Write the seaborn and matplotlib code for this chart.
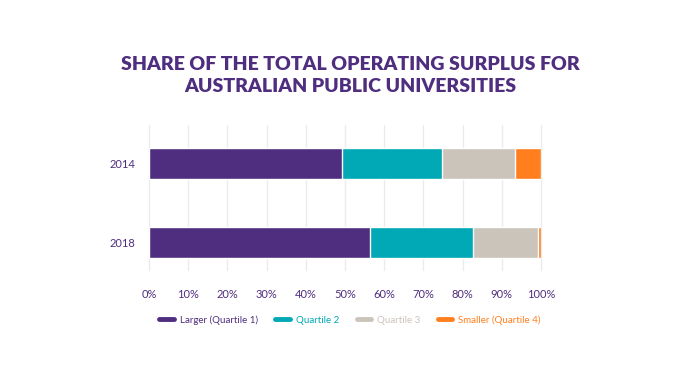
import matplotlib
matplotlib.use("Agg")
import matplotlib.pyplot as plt
import seaborn as sns
import numpy as np
import pandas as pd
from matplotlib.lines import Line2D

years = ["2014", "2018"]
series = ["Larger (Quartile 1)", "Quartile 2", "Quartile 3", "Smaller (Quartile 4)"]
q1 = [49.2, 56.4]
q2 = [25.5, 26.3]
q3 = [18.7, 16.5]
q4 = [6.6, 0.8]
colors = ["#4F2D7F", "#00A9B5", "#CBC4BA", "#FF7F1E"]
xticks = [0, 10, 20, 30, 40, 50, 60, 70, 80, 90, 100]

sns.set_style("white")
plt.rcParams["font.family"] = ["Lato", "DejaVu Sans"]
purple = "#4F2D7F"

fig = plt.figure(figsize=(7, 3.85), dpi=100)
ax = fig.add_axes([149/700, 1-270/385, 392/700, 145/385])

vals = np.array([q1, q2, q3, q4])
cum = np.cumsum(vals, axis=0)
for i in range(len(series) - 1, -1, -1):
    df = pd.DataFrame({"year": years, "value": cum[i]})
    sns.barplot(data=df, x="value", y="year", color=colors[i], orient="h",
                width=0.39, edgecolor="white", linewidth=1.0, ax=ax, saturation=1)

ax.set_xlim(0, 100)
ax.set_ylim(1.348, -0.487)
ax.set_xticks(xticks)
ax.set_xticklabels([f"{t}%" for t in xticks])
ax.set_xlabel("")
ax.set_ylabel("")
ax.grid(axis="x", color="#EBEBEB", linewidth=1)
for gl in ax.get_xgridlines():
    gl.set_clip_on(False)
ax.set_axisbelow(True)
for s in ax.spines.values():
    s.set_visible(False)
ax.tick_params(axis="x", colors=purple, labelsize=8, length=0, pad=14)
ax.tick_params(axis="y", colors=purple, labelsize=8, length=0, pad=10)

fig.suptitle("SHARE OF THE TOTAL OPERATING SURPLUS FOR\nAUSTRALIAN PUBLIC UNIVERSITIES",
             x=0.5, y=1-56/385, va="top", fontsize=14, fontweight="heavy",
             color=purple, linespacing=1.35)

handles = [Line2D([0], [0], color=c, linewidth=3.5) for c in colors]
leg = fig.legend(handles, series, loc="center", bbox_to_anchor=(0.5, 1-320/385),
                 ncol=4, frameon=False, fontsize=7, handlelength=1.5,
                 columnspacing=1.8, handletextpad=0.6)
for t, c in zip(leg.get_texts(), colors):
    t.set_color(c)

fig.savefig("out.png", dpi=100)
